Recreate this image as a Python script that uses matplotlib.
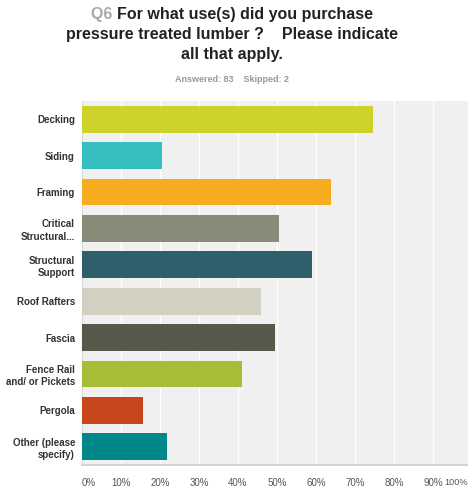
import matplotlib.pyplot as plt

categories = ["Decking", "Siding", "Framing", "Critical\nStructural...", "Structural\nSupport",
              "Roof Rafters", "Fascia", "Fence Rail\nand/ or Pickets", "Pergola", "Other (please\nspecify)"]
values = [74.7, 20.5, 63.9, 50.6, 59.0, 45.8, 49.4, 41.0, 15.7, 21.7]
colors = ["#cdd32a", "#35bdbf", "#f7ab1f", "#8a8a78", "#2e5f6b",
          "#d1d0c1", "#58584a", "#a7bd38", "#c9461d", "#00878a"]
xticks = [0, 10, 20, 30, 40, 50, 60, 70, 80, 90, 100]

plt.rcParams['font.family'] = ['Liberation Sans', 'DejaVu Sans']

fig = plt.figure(figsize=(4.68, 4.86), dpi=100)
ax = fig.add_axes([82 / 468, 21 / 486, 390 / 468, 364 / 486])
ax.set_facecolor("#f0f0f0")

ypos = list(range(len(categories)))
ax.barh(ypos, values, height=0.74, color=colors, zorder=3)
ax.set_xlim(0, 100)
ax.set_ylim(len(categories) - 0.5, -0.5)

for x in xticks[1:]:
    ax.axvline(x, color="white", lw=1, zorder=1)

for s in ["top", "right"]:
    ax.spines[s].set_visible(False)
ax.spines["left"].set_color("#dcdcdc")
ax.spines["bottom"].set_color("#d4d4d4")
ax.spines["bottom"].set_linewidth(1.5)

ax.set_yticks(ypos)
ax.set_yticklabels(categories, fontsize=7, fontweight="bold", color="#333333", linespacing=1.3)
ax.set_xticks(xticks)
# the last label is drawn by hand below so it stays inside the picture
ax.set_xticklabels([f"{x}%" for x in xticks[:-1]] + [""], fontsize=7, color="#555555")
ax.tick_params(axis="both", length=0)
ax.tick_params(axis="y", pad=5)
ax.tick_params(axis="x", pad=9)
ax.get_xticklabels()[0].set_ha("left")
fig.text(1.0, 1 - 482 / 486, "100%", fontsize=6.6, color="#555555", ha="right", va="center")

# title, with the gray "Q6"
fig.canvas.draw()
r = fig.canvas.get_renderer()
cx = 232 / 468
a = fig.text(0, 0, "Q6 ", fontsize=11.5, fontweight="bold", color="#aaaaaa")
b = fig.text(0, 0, "For what use(s) did you purchase", fontsize=11.5, fontweight="bold", color="#222222")
wa = a.get_window_extent(r).width / fig.bbox.width
wb = b.get_window_extent(r).width / fig.bbox.width
x0 = cx - (wa + wb) / 2
y1 = 1 - 15 / 486
a.set_position((x0, y1))
b.set_position((x0 + wa, y1))
a.set_va("center")
b.set_va("center")
fig.text(cx, 1 - 35 / 486, "pressure treated lumber ?    Please indicate", fontsize=11.5,
         fontweight="bold", color="#222222", ha="center", va="center")
fig.text(cx, 1 - 55 / 486, "all that apply.", fontsize=11.5,
         fontweight="bold", color="#222222", ha="center", va="center")
fig.text(cx, 1 - 80 / 486, "Answered: 83    Skipped: 2", fontsize=6.5, fontweight="bold",
         color="#999999", ha="center", va="center")

fig.savefig("out.png", dpi=100)
